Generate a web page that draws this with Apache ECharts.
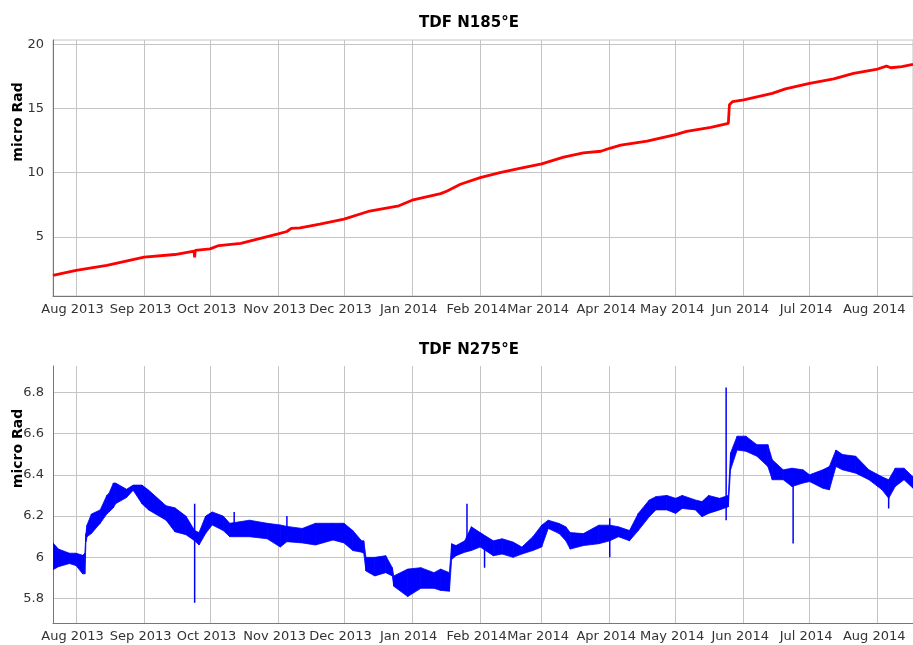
<!DOCTYPE html>
<html><head><meta charset="utf-8">
<script src="https://cdn.jsdelivr.net/npm/echarts@6/dist/echarts.min.js"></script>
<style>html,body{margin:0;padding:0;background:#fff}#c{width:913px;height:645px}</style>
</head><body><div id="c"></div>
<script>
// ---------- data ----------
const xTickDates = ['2013-08-01','2013-09-01','2013-10-01','2013-11-01','2013-12-01','2014-01-01','2014-02-01','2014-03-01','2014-04-01','2014-05-01','2014-06-01','2014-07-01','2014-08-01'];
const xTickLabels = ['Aug 2013','Sep 2013','Oct 2013','Nov 2013','Dec 2013','Jan 2014','Feb 2014','Mar 2014','Apr 2014','May 2014','Jun 2014','Jul 2014','Aug 2014'];
const yTicksTop = [5, 10, 15, 20];
const yTicksBottom = [5.8, 6, 6.2, 6.4, 6.6, 6.8];

// TDF N185°E
const topDates = ['2013-07-21 12:00','2013-08-01','2013-08-15','2013-09-01','2013-09-15','2013-09-23 18:00','2013-09-24','2013-09-24 06:00','2013-10-01','2013-10-05','2013-10-15','2013-11-01','2013-11-05','2013-11-07','2013-11-11','2013-11-20','2013-12-01','2013-12-12','2013-12-26','2014-01-01','2014-01-14','2014-01-17','2014-01-23','2014-02-01','2014-02-10','2014-02-19','2014-03-01','2014-03-11','2014-03-20','2014-03-28','2014-04-01','2014-04-06','2014-04-18','2014-05-01','2014-05-06','2014-05-17','2014-05-25','2014-05-25 12:00','2014-05-27','2014-06-01','2014-06-14','2014-06-20','2014-07-01','2014-07-12','2014-07-21','2014-08-01','2014-08-05','2014-08-07','2014-08-12','2014-08-17 02:00'];
const topValues = [2.0,2.4,2.78,3.42,3.63,3.9,3.4,3.95,4.07,4.33,4.5,5.23,5.42,5.66,5.7,6.0,6.39,6.98,7.42,7.86,8.37,8.58,9.1,9.61,10.0,10.34,10.69,11.21,11.54,11.67,11.9,12.14,12.45,12.97,13.22,13.53,13.84,15.29,15.54,15.67,16.18,16.52,16.96,17.3,17.73,18.07,18.3,18.17,18.25,18.43];

// TDF N275°E : daily oscillation band (upper / lower envelope)
const bandDates = ['2013-07-21 12:00','2013-07-24','2013-07-29','2013-08-01','2013-08-04','2013-08-05','2013-08-05 12:00','2013-08-06','2013-08-08','2013-08-12','2013-08-15','2013-08-16','2013-08-18','2013-08-19','2013-08-24','2013-08-27','2013-08-31','2013-09-03','2013-09-11','2013-09-15','2013-09-20','2013-09-24','2013-09-26','2013-09-29','2013-10-02','2013-10-07','2013-10-10','2013-10-19','2013-10-27','2013-11-02','2013-11-05','2013-11-12','2013-11-18','2013-11-26','2013-12-01','2013-12-05','2013-12-09','2013-12-10','2013-12-11','2013-12-15','2013-12-20','2013-12-23','2013-12-23 16:00','2013-12-30','2014-01-05','2014-01-11','2014-01-14','2014-01-18','2014-01-19','2014-01-21','2014-01-25','2014-01-28','2014-02-01','2014-02-07','2014-02-11','2014-02-16','2014-02-20','2014-02-25','2014-03-01','2014-03-04','2014-03-09','2014-03-12','2014-03-14','2014-03-20','2014-03-27','2014-04-01','2014-04-05','2014-04-10','2014-04-14','2014-04-19','2014-04-22','2014-04-27','2014-05-01','2014-05-04','2014-05-10','2014-05-13','2014-05-16','2014-05-21','2014-05-25','2014-05-26','2014-05-29','2014-06-02','2014-06-07','2014-06-12','2014-06-14','2014-06-19','2014-06-23','2014-06-28','2014-07-01','2014-07-07','2014-07-10','2014-07-13','2014-07-16','2014-07-22','2014-07-28','2014-08-03','2014-08-06','2014-08-09','2014-08-13','2014-08-17 02:00'];
const bandHigh = [6.07,6.04,6.02,6.02,6.01,6.02,6.116,6.157,6.21,6.23,6.30,6.31,6.36,6.36,6.33,6.35,6.35,6.326,6.25,6.24,6.2,6.13,6.12,6.2,6.22,6.20,6.165,6.18,6.165,6.157,6.15,6.14,6.165,6.165,6.165,6.13,6.08,6.08,6.0,6.0,6.008,5.95,5.91,5.943,5.95,5.926,5.943,5.926,6.066,6.057,6.08,6.148,6.12,6.08,6.09,6.074,6.05,6.1,6.156,6.18,6.164,6.148,6.12,6.115,6.156,6.156,6.148,6.13,6.213,6.278,6.294,6.30,6.286,6.30,6.278,6.27,6.30,6.286,6.30,6.506,6.587,6.587,6.546,6.546,6.473,6.424,6.432,6.424,6.40,6.424,6.44,6.52,6.498,6.49,6.424,6.39,6.376,6.432,6.432,6.39];
const bandLow = [5.94,5.955,5.97,5.96,5.92,5.92,6.076,6.10,6.116,6.165,6.21,6.22,6.24,6.26,6.29,6.325,6.26,6.23,6.18,6.124,6.11,6.08,6.06,6.116,6.157,6.13,6.10,6.10,6.09,6.05,6.076,6.07,6.06,6.084,6.07,6.033,6.025,6.02,5.934,5.91,5.926,5.91,5.86,5.81,5.85,5.85,5.84,5.836,5.99,6.008,6.025,6.033,6.05,6.008,6.016,6.0,6.016,6.033,6.05,6.14,6.115,6.08,6.04,6.057,6.066,6.08,6.1,6.08,6.13,6.197,6.23,6.23,6.213,6.237,6.23,6.197,6.213,6.23,6.245,6.424,6.52,6.514,6.49,6.44,6.376,6.376,6.343,6.36,6.367,6.335,6.327,6.44,6.424,6.408,6.376,6.327,6.286,6.343,6.376,6.335];

// TDF N275°E : isolated spikes
const spikeDates = ['2013-09-24','2013-10-12','2013-11-05','2014-01-26','2014-02-03','2014-04-01','2014-05-24','2014-06-23 12:00','2014-08-06'];
const spikeLow  = [5.78,6.13,6.10,6.03,5.95,6.0,6.18,6.067,6.237];
const spikeHigh = [6.26,6.22,6.20,6.26,6.06,6.19,6.823,6.36,6.30];

// ---------- build ----------
function ts(s) {
  const m = s.match(/(\d+)-(\d+)-(\d+)(?: (\d+):(\d+))?/);
  return new Date(+m[1], +m[2] - 1, +m[3], m[4] ? +m[4] : 0, m[5] ? +m[5] : 0).getTime();
}
const xTicks = xTickDates.map(ts);
const xMin = ts('2013-07-21 12:00'), xMax = ts('2014-08-17 02:00');
const labelOf = {};
xTicks.forEach((t, i) => { labelOf[t] = xTickLabels[i]; });
const bandTs = bandDates.map(ts);

const FONT = 'DejaVu Sans';
const gridCol = '#c4c4c4';
const axisCol = '#777';

function xAxis(idx) {
  return {
    type: 'value', gridIndex: idx, min: xMin, max: xMax, scale: true,
    axisLine: { show: true, onZero: false, lineStyle: { color: axisCol } },
    axisTick: { show: false, customValues: xTicks },
    axisLabel: {
      customValues: xTicks, hideOverlap: false,
      formatter: (v) => labelOf[v] || '',
      color: '#333', fontSize: 13, fontFamily: FONT, margin: 7,
      padding: [0, 7, 0, 0]
    },
    splitLine: { show: true, lineStyle: { color: gridCol, width: 1 } }
  };
}
function yAxis(idx, min, max, ticks) {
  return {
    type: 'value', gridIndex: idx, min: min, max: max,
    name: 'micro Rad', nameLocation: 'middle', nameGap: 28, nameMoveOverlap: false,
    nameTextStyle: { fontFamily: FONT, fontWeight: 'bold', fontSize: 14, color: '#000', padding: [0, 0, 0, 92] },
    axisLine: { show: true, onZero: false, lineStyle: { color: axisCol } },
    axisTick: { show: false, customValues: ticks },
    axisLabel: { customValues: ticks, color: '#333', fontSize: 13, fontFamily: FONT, margin: 9 },
    splitLine: { show: true, lineStyle: { color: gridCol, width: 1 } }
  };
}

const spikeData = [];
spikeDates.forEach((d, i) => {
  const t = ts(d);
  spikeData.push([t, spikeLow[i]], [t, spikeHigh[i]], [t, '-']);
});

const chart = echarts.init(document.getElementById('c'), null, { renderer: 'canvas' });
chart.setOption({
  animation: false,
  backgroundColor: '#fff',
  title: [
    { text: 'TDF N185°E', left: 464, top: 11, textAlign: 'center',
      textStyle: { fontFamily: FONT, fontWeight: 'bold', fontSize: 15, color: '#000' } },
    { text: 'TDF N275°E', left: 464, top: 338, textAlign: 'center',
      textStyle: { fontFamily: FONT, fontWeight: 'bold', fontSize: 15, color: '#000' } }
  ],
  grid: [
    { left: 53, top: 40, right: 0, height: 256, outerBoundsMode: 'none', containLabel: false,
      show: true, borderColor: gridCol, borderWidth: 1, backgroundColor: 'transparent' },
    { left: 53, top: 366, right: 0, height: 257, outerBoundsMode: 'none', containLabel: false }
  ],
  xAxis: [xAxis(0), xAxis(1)],
  yAxis: [yAxis(0, 0.4, 20.33, yTicksTop), yAxis(1, 5.682, 6.927, yTicksBottom)],
  series: [
    { type: 'line', xAxisIndex: 0, yAxisIndex: 0, showSymbol: false, symbol: 'none',
      data: topDates.map((d, i) => [ts(d), topValues[i]]),
      lineStyle: { color: '#ff0000', width: 2.8 }, itemStyle: { color: '#ff0000' } },
    { type: 'custom', xAxisIndex: 1, yAxisIndex: 1, clip: true,
      data: bandTs.map((t, i) => [t, bandLow[i], bandHigh[i]]),
      encode: { x: 0, y: [1, 2] },
      renderItem: (params, api) => {
        const i = params.dataIndex;
        if (i >= bandTs.length - 1) return null;
        const pts = [
          api.coord([bandTs[i], bandLow[i]]),
          api.coord([bandTs[i], bandHigh[i]]),
          api.coord([bandTs[i + 1], bandHigh[i + 1]]),
          api.coord([bandTs[i + 1], bandLow[i + 1]])
        ];
        return { type: 'polygon', shape: { points: pts },
          style: { fill: '#0000ff', stroke: '#0000ff', lineWidth: 0.8 } };
      } },
    { type: 'line', xAxisIndex: 1, yAxisIndex: 1, symbol: 'none', showSymbol: false, connectNulls: false,
      data: spikeData, lineStyle: { color: '#0000ff', width: 1.5 }, itemStyle: { color: '#0000ff' } }
  ]
});
</script>
</body></html>
